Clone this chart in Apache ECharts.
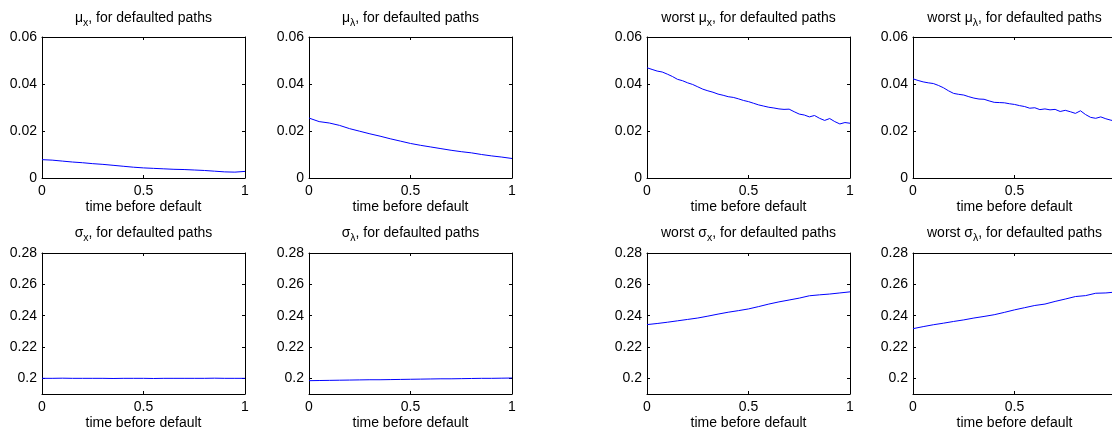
<!DOCTYPE html>
<html>
<head>
<meta charset="utf-8">
<script src="https://cdn.jsdelivr.net/npm/echarts@6/dist/echarts.min.js"></script>
<style>
  html, body { margin: 0; padding: 0; background: #fff; overflow: hidden; }
  #chart { width: 1112px; height: 434px; }
</style>
</head>
<body>
<div id="chart"></div>
<script>
// time grids (fraction of the year before default)
const tSmooth = [0, 0.05, 0.1, 0.15, 0.2, 0.25, 0.3, 0.35, 0.4, 0.45, 0.5,
                 0.55, 0.6, 0.65, 0.7, 0.75, 0.8, 0.85, 0.9, 0.95, 1];
const tFine = [0, 0.025, 0.05, 0.075, 0.1, 0.125, 0.15, 0.175, 0.2, 0.225, 0.25,
               0.275, 0.3, 0.325, 0.35, 0.375, 0.4, 0.425, 0.45, 0.475, 0.5,
               0.525, 0.55, 0.575, 0.6, 0.625, 0.65, 0.675, 0.7, 0.725, 0.75,
               0.775, 0.8, 0.825, 0.85, 0.875, 0.9, 0.925, 0.95, 0.975, 1];

// average drift of x and lambda over defaulted paths
const muX = [0.0078, 0.0076, 0.0072, 0.0068, 0.0065, 0.0061, 0.0058, 0.0054, 0.0050, 0.0046, 0.0043,
             0.0041, 0.0039, 0.0037, 0.0036, 0.0034, 0.0032, 0.0029, 0.0026, 0.0025, 0.0028];
const muLambda = [0.0255, 0.0240, 0.0234, 0.0224, 0.0210, 0.0199, 0.0188, 0.0178, 0.0167, 0.0157, 0.0147,
                  0.0139, 0.0132, 0.0125, 0.0118, 0.0112, 0.0107, 0.0100, 0.0094, 0.0089, 0.0083];

// worst-case drift (fine grid)
const worstMuX = [0.0469, 0.0462, 0.0455, 0.0451, 0.0442, 0.0432, 0.0420, 0.0414, 0.0405, 0.0398, 0.0388,
                  0.0378, 0.0371, 0.0365, 0.0357, 0.0352, 0.0346, 0.0343, 0.0337, 0.0330, 0.0325,
                  0.0318, 0.0311, 0.0306, 0.0301, 0.0298, 0.0294, 0.0292, 0.0293, 0.0282, 0.0272,
                  0.0268, 0.0260, 0.0266, 0.0254, 0.0245, 0.0253, 0.0240, 0.0230, 0.0236, 0.0233];
const worstMuLambda = [0.0422, 0.0415, 0.0409, 0.0405, 0.0402, 0.0394, 0.0384, 0.0371, 0.0360, 0.0356, 0.0353,
                       0.0346, 0.0340, 0.0336, 0.0335, 0.0328, 0.0322, 0.0321, 0.0320, 0.0316, 0.0313,
                       0.0308, 0.0304, 0.0297, 0.0299, 0.0291, 0.0294, 0.0290, 0.0292, 0.0283, 0.0288,
                       0.0282, 0.0275, 0.0286, 0.0270, 0.0258, 0.0254, 0.0260, 0.0252, 0.0246, 0.0241];

// volatility of x and lambda over defaulted paths
const sigmaX = [0.2000, 0.2000, 0.2001, 0.2000, 0.2000, 0.2000, 0.2000, 0.1999, 0.2000, 0.2000, 0.2000,
                0.1999, 0.2000, 0.2000, 0.2000, 0.2000, 0.2000, 0.2001, 0.2000, 0.2000, 0.2000];
const sigmaLambda = [0.1985, 0.1986, 0.1987, 0.1988, 0.1989, 0.1990, 0.1991, 0.1991, 0.1992, 0.1993, 0.1994,
                     0.1995, 0.1996, 0.1997, 0.1997, 0.1998, 0.1999, 0.2000, 0.2000, 0.2001, 0.2002];
const worstSigmaX = [0.2343, 0.2350, 0.2358, 0.2367, 0.2376, 0.2385, 0.2397, 0.2410, 0.2422, 0.2432, 0.2443,
                     0.2458, 0.2474, 0.2488, 0.2500, 0.2512, 0.2527, 0.2533, 0.2538, 0.2545, 0.2552];
const worstSigmaLambda = [0.2317, 0.2330, 0.2342, 0.2352, 0.2363, 0.2373, 0.2385, 0.2395, 0.2406, 0.2421, 0.2437,
                          0.2451, 0.2465, 0.2474, 0.2491, 0.2506, 0.2522, 0.2528, 0.2543, 0.2545, 0.2551];

// axis ticks
const xTicks = [0, 0.5, 1];
const muTicks = [0, 0.02, 0.04, 0.06];
const sigmaTicks = [0.2, 0.22, 0.24, 0.26, 0.28];
const xLabel = 'time before default';

const panels = [
  { pre: '', sym: 'μ', sub: 'x', t: tSmooth, v: muX, kind: 'mu' },
  { pre: '', sym: 'μ', sub: 'λ', t: tSmooth, v: muLambda, kind: 'mu' },
  { pre: 'worst ', sym: 'μ', sub: 'x', t: tFine, v: worstMuX, kind: 'mu' },
  { pre: 'worst ', sym: 'μ', sub: 'λ', t: tFine, v: worstMuLambda, kind: 'mu' },
  { pre: '', sym: 'σ', sub: 'x', t: tSmooth, v: sigmaX, kind: 'sigma' },
  { pre: '', sym: 'σ', sub: 'λ', t: tSmooth, v: sigmaLambda, kind: 'sigma' },
  { pre: 'worst ', sym: 'σ', sub: 'x', t: tSmooth, v: worstSigmaX, kind: 'sigma' },
  { pre: 'worst ', sym: 'σ', sub: 'λ', t: tSmooth, v: worstSigmaLambda, kind: 'sigma' }
];

// subplot layout
const colLeft = [42, 309, 647, 913];
const plotW = 203;
const rowTop = [37, 253];
const plotH = 141;

const FONT = 'Liberation Sans, Arial, Helvetica, sans-serif';
const yRanges = {
  mu: { min: 0, max: 0.06, ticks: muTicks, interval: 0.02 },
  sigma: { min: 0.19, max: 0.28, ticks: sigmaTicks, interval: 0.01 }
};

const grid = [], xAxis = [], yAxis = [], series = [], title = [];

panels.forEach((p, i) => {
  const col = i % 4, row = Math.floor(i / 4);
  const left = colLeft[col], top = rowTop[row];
  grid.push({
    left: left, top: top, width: plotW, height: plotH,
    containLabel: false, outerBoundsMode: 'none'
  });
  const yr = yRanges[p.kind];
  const lineStyle = { color: '#000', width: 1 };

  // bottom x axis with labels, top mirror with ticks only
  [false, true].forEach(mirror => {
    xAxis.push({
      type: 'value', gridIndex: i, min: 0, max: 1, interval: 0.5,
      position: mirror ? 'top' : 'bottom',
      axisLine: { show: true, onZero: false, lineStyle: lineStyle },
      axisTick: { show: true, inside: true, length: 3, lineStyle: lineStyle, customValues: xTicks },
      axisLabel: mirror ? { show: false } : {
        show: true, color: '#000', fontSize: 14, fontFamily: FONT, margin: 6, customValues: xTicks
      },
      splitLine: { show: false },
      name: mirror ? '' : xLabel,
      nameLocation: 'middle', nameGap: 22,
      nameTextStyle: { color: '#000', fontSize: 14, fontFamily: FONT }
    });
    yAxis.push({
      type: 'value', gridIndex: i, min: yr.min, max: yr.max, interval: yr.interval,
      position: mirror ? 'right' : 'left',
      axisLine: { show: true, onZero: false, lineStyle: lineStyle },
      axisTick: { show: true, inside: true, length: 3, lineStyle: lineStyle, customValues: yr.ticks },
      axisLabel: mirror ? { show: false } : {
        show: true, color: '#000', fontSize: 14, fontFamily: FONT, margin: 5, customValues: yr.ticks
      },
      splitLine: { show: false }
    });
  });

  series.push({
    type: 'line', xAxisIndex: 2 * i, yAxisIndex: 2 * i,
    data: p.t.map((t, k) => [t, p.v[k]]),
    showSymbol: false, symbol: 'none',
    lineStyle: { color: '#0000ff', width: 1 },
    animation: false, silent: true
  });

  const pieces = (p.pre ? '{n|' + p.pre + '}' : '') + '{g|' + p.sym + '}{s|' + p.sub + '}{n|, for defaulted paths}';
  const base = { fontSize: 14, fontFamily: FONT, fontWeight: 'normal', color: '#000', lineHeight: 14, verticalAlign: 'top' };
  title.push({
    text: pieces,
    left: left + plotW / 2,
    top: row === 0 ? 11 : 226,
    textAlign: 'center',
    padding: 0,
    textStyle: {
      fontWeight: 'normal', fontFamily: FONT, fontSize: 14, color: '#000',
      rich: {
        n: base,
        g: base,
        s: { fontSize: 10.5, fontFamily: FONT, fontWeight: 'normal', color: '#000', lineHeight: 10, verticalAlign: 'top', padding: [7, 0, 0, 0] }
      }
    }
  });
});

const chart = echarts.init(document.getElementById('chart'), null, { renderer: 'canvas' });
chart.setOption({
  animation: false,
  backgroundColor: '#fff',
  title: title,
  grid: grid,
  xAxis: xAxis,
  yAxis: yAxis,
  series: series
});
</script>
</body>
</html>
